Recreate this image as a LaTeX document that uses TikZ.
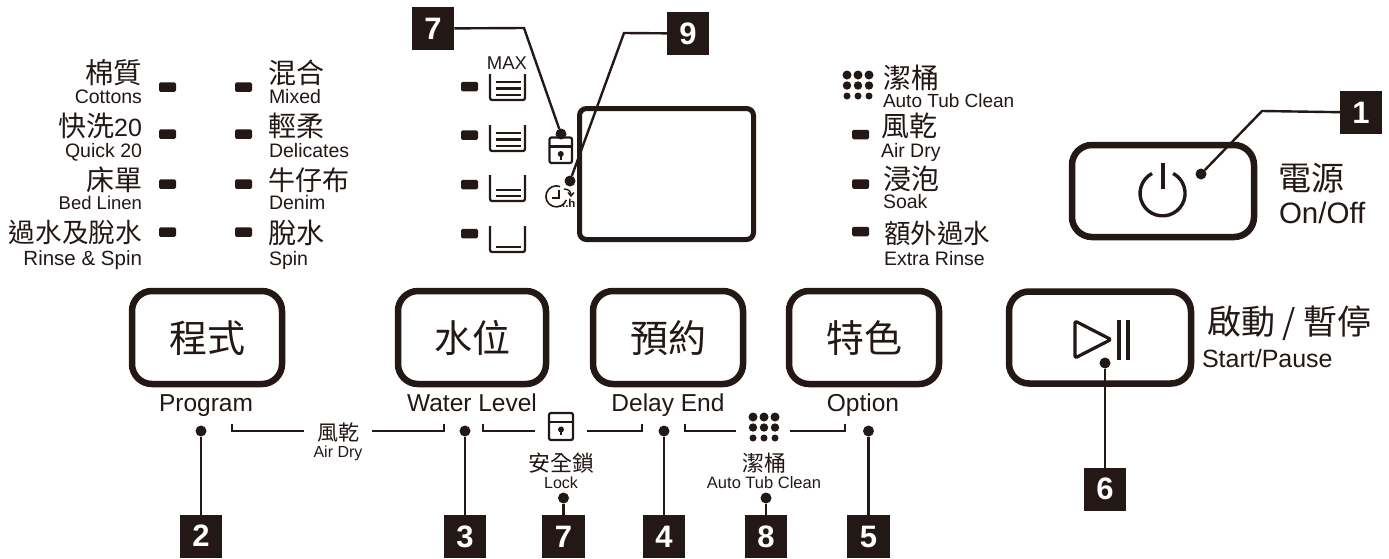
\documentclass[tikz,border=0pt]{standalone}
\usepackage{fontspec}
\setmainfont{Liberation Sans}
\newfontfamily\cjk{Noto Sans CJK TC}
\newfontfamily\lat{Liberation Sans}
\definecolor{ink}{HTML}{231815}
\newcommand{\fs}[1]{\fontsize{#1}{#1}\selectfont}
\tikzset{
  x=1pt,y=-1pt,
  every node/.style={inner sep=0pt,outer sep=0pt,text=ink},
  led/.style={fill=ink,rounded corners=1.5pt,minimum width=17pt,minimum height=9.5pt},
  panel/.style={draw=ink,line width=6.5pt,rounded corners=20pt,fill=white},
  tag/.style={fill=ink,minimum width=42.5pt,minimum height=43pt,text=white,font=\bfseries\fs{31}},
  dot/.style={circle,fill=ink,minimum size=11pt},
  lead/.style={draw=ink,line width=2.4pt},
  brk/.style={draw=ink,line width=2pt},
  zh/.style={font=\cjk\fs{28},anchor=base west},
  zhr/.style={font=\cjk\fs{28},anchor=base east},
  en/.style={font=\fs{19.5},anchor=base west},
  enr/.style={font=\fs{19.5},anchor=base east},
  btn/.style={font=\cjk\fs{38},anchor=base},
  capt/.style={font=\fs{24.5},anchor=base},
  tub/.style={draw=ink,line width=2.2pt,line join=round},
  lvl/.style={draw=ink,line width=2.2pt},
  nine/.style={circle,fill=ink},
}
\newcommand{\tubicon}[1]{\draw[tub,rounded corners=2pt] (490,#1) -- (490,#1+26) -- (525,#1+26) -- (525,#1);}
\newcommand{\lockicon}[4]{% x0 y0 x1 y1
  \draw[tub,rounded corners=2pt] (#1,#2) rectangle (#3,#4);
  \draw[tub] (#1,#2+9) -- (#3,#2+9);
  \fill[ink] ({(#1+#3)/2},#2+16.5) circle (3pt);
  \fill[ink] ({(#1+#3)/2-1.2},#2+16.5) rectangle ({(#1+#3)/2+1.2},#2+22);}
\begin{document}
\begin{tikzpicture}
\useasboundingbox[fill=white] (0,0) rectangle (1389,558);
% left column
\node[zhr,font=\cjk\fs{28.5}] (t1) at (142,83) {棉質};
\node[enr] (t1e) at (142,103) {Cottons};
\node[zhr] (t2) at (142,136) {快洗{\lat\fs{25}20}};
\node[enr] (t2e) at (142,157) {Quick 20};
\node[zhr] (t3) at (142,190) {床單};
\node[enr,font=\fs{18.5}] (t3e) at (142,209) {Bed Linen};
\node[zhr,font=\cjk\fs{26.6}] (t4) at (142,242) {過水及脫水};
\node[enr,font=\fs{20.5}] (t4e) at (142,265) {Rinse \& Spin};
\node[led] (l1) at (167.5,87) {};
\node[led] (l2) at (167.5,134) {};
\node[led] (l3) at (167.5,184) {};
\node[led] (l4) at (167.5,232) {};
\node[led] (m1) at (243.5,87) {};
\node[led] (m2) at (243.5,134) {};
\node[led] (m3) at (243.5,184) {};
\node[led] (m4) at (243.5,232) {};
\node[zh] (u1) at (268,83) {混合};
\node[en] (u1e) at (269,103) {Mixed};
\node[zh] (u2) at (268,136) {輕柔};
\node[en] (u2e) at (269,157) {Delicates};
\node[zh,font=\cjk\fs{27}] (u3) at (268,190) {牛仔布};
\node[en] (u3e) at (269,209) {Denim};
\node[zh] (u4) at (268,243) {脫水};
\node[en] (u4e) at (269,265) {Spin};
% water levels
\node[font=\fs{18.5},anchor=base] (mx) at (507,69) {MAX};
\node[led] (w1) at (469.5,86.5) {};
\node[led] (w2) at (469.5,135) {};
\node[led] (w3) at (469.5,184.5) {};
\node[led] (w4) at (469.5,233.5) {};
\tubicon{74}\tubicon{125}\tubicon{175}\tubicon{226}
\foreach \y in {82,88.5,95,133,139.5,146,190,196,247}{\draw[lvl] (495.5,\y) -- (520.5,\y);}
% display
\node[draw=ink,line width=5pt,rounded corners=7pt,minimum width=174pt,minimum height=131pt,anchor=north west,fill=none] (disp) at (579.5,108.5) {};
% lock and clock icons
\lockicon{549.5}{137.5}{572}{163}
\draw[ink,line width=1.6pt] (560,186.5) arc (70:340:10.5pt);
\draw[ink,line width=1.6pt] (559,190) -- (559,198) -- (552,198);
\draw[ink,line width=1.4pt] (564,189) .. controls (568,189) and (571,191) .. (571,195);
\draw[ink,line width=1.4pt] (568,192.5) -- (571,196) -- (574,192.5);
\node[font=\bfseries\fs{11.5},anchor=base east] (hh) at (575.5,207.5) {...h};
% leaders top
\node[tag] (b7t) at (433,28.5) {7};
\node[tag] (b9) at (688,33.5) {9};
\node[dot] (d7t) at (561,134) {};
\node[dot] (d9) at (570,181) {};
\coordinate (k7) at (524,28);
\coordinate (k9) at (624,33);
\draw[lead] (b7t) -- (k7) -- (d7t);
\draw[lead] (b9) -- (k9) -- (d9);
% right column
\foreach \nm/\x/\y/\r in {a/847/75/4.5,b/858/75/4.5,c/869/75/4.5,d/847/85.5/4.2,e/858/85.5/4.2,f/869/85.5/4.2,g/847/96/3.5,h/858/96/3.5,i/869/96/3.5}{
  \node[nine,minimum size=2*\r*1pt] (p\nm) at (\x,\y) {};}
\node[zh] (r1) at (883,88) {潔桶};
\node[en,font=\fs{19}] (r1e) at (883,107) {Auto Tub Clean};
\node[led] (s2) at (860.5,134.5) {};
\node[led] (s3) at (860.5,184) {};
\node[led] (s4) at (860.5,231.5) {};
\node[zh] (r2) at (881,136) {風乾};
\node[en] (r2e) at (881,157) {Air Dry};
\node[zh] (r3) at (883,189) {浸泡};
\node[en] (r3e) at (883,208) {Soak};
\node[zh,font=\cjk\fs{26.5}] (r4) at (884,243) {額外過水};
\node[en] (r4e) at (884,265) {Extra Rinse};
% power
\node[panel,minimum width=182pt,minimum height=92pt,anchor=north west] (pw) at (1072,145) {};
\draw[ink,line width=3.4pt] (1152,173.5) arc (118:422:22.5pt);
\draw[ink,line width=3.6pt] (1163,163) -- (1163,189);
\node[tag] (b1) at (1361,112.5) {1};
\node[dot] (d1) at (1201,174) {};
\coordinate (k1) at (1262,111);
\draw[lead] (b1) -- (k1) -- (d1);
\node[font=\cjk\fs{33},anchor=base west] (pz) at (1278,190) {電源};
\node[font=\fs{29.5},anchor=base west] (pe) at (1279,223) {On/Off};
% start
\node[panel,minimum width=182pt,minimum height=92pt,anchor=north west] (st) at (1009,291.5) {};
\draw[ink,line width=3.2pt,line join=round,rounded corners=2pt] (1075,321) -- (1111,339.5) -- (1075,358) -- cycle;
\draw[ink,line width=3.2pt] (1119,320) -- (1119,360);
\draw[ink,line width=3.2pt] (1128,320) -- (1128,360);
\node[tag] (b6) at (1105,489) {6};
\node[dot] (d6) at (1105,363) {};
\draw[lead] (b6) -- (d6);
\node[font=\cjk\fs{34},anchor=base west] (sz) at (1207,334) {啟動 / 暫停};
\node[font=\fs{25},anchor=base west] (se) at (1202,367) {Start/Pause};
% main buttons
\node[panel,minimum width=150pt,minimum height=93pt,anchor=north west] (bp) at (132,291) {};
\node[panel,minimum width=148pt,minimum height=93pt,anchor=north west] (bw) at (398,291) {};
\node[panel,minimum width=150pt,minimum height=93pt,anchor=north west] (bd) at (593,291) {};
\node[panel,minimum width=150pt,minimum height=93pt,anchor=north west] (bo) at (789,291) {};
\node[btn] (bpt) at (207,352) {程式};
\node[btn] (bwt) at (472,352) {水位};
\node[btn] (bdt) at (668,352) {預約};
\node[btn] (bot) at (864,352) {特色};
\node[capt] (cp) at (206,411) {Program};
\node[capt] (cw) at (472,411) {Water Level};
\node[capt] (cd) at (668,411) {Delay End};
\node[capt] (co) at (863,411) {Option};
% bottom tags
\node[tag] (b2) at (201,536) {2};
\node[tag] (b3) at (465,536.5) {3};
\node[tag] (b7) at (563.5,536.5) {7};
\node[tag] (b4) at (664,536.5) {4};
\node[tag] (b8) at (766,536.5) {8};
\node[tag] (b5) at (868.5,536.5) {5};
\node[dot] (d2) at (201,431) {};
\node[dot] (d3) at (465,431) {};
\node[dot] (d7) at (563.5,498) {};
\node[dot] (d4) at (664,431) {};
\node[dot] (d8) at (766,498) {};
\node[dot] (d5) at (868.5,431) {};
\foreach \a/\b in {b2/d2,b3/d3,b7/d7,b4/d4,b8/d8,b5/d5}{\draw[lead] (\a) -- (\b);}
% brackets
\draw[brk] (232,423.5) -- (232,431) -- (304,431);
\draw[brk] (372,431) -- (444,431) -- (444,423.5);
\draw[brk] (483,423.5) -- (483,431) -- (535,431);
\draw[brk] (587,431) -- (642,431) -- (642,423.5);
\draw[brk] (685,423.5) -- (685,431) -- (736,431);
\draw[brk] (790,431) -- (845,431) -- (845,423.5);
\node[font=\cjk\fs{21},anchor=base] (q1) at (338,440) {風乾};
\node[font=\fs{16},anchor=base] (q1e) at (338,457) {Air Dry};
\lockicon{549}{413}{573}{440}
\foreach \nm/\x/\y/\r in {a/753/417/4.5,b/764/417/4.5,c/775/417/4.5,d/753/427.5/4.2,e/764/427.5/4.2,f/775/427.5/4.2,g/753/438/3.5,h/764/438/3.5,i/775/438/3.5}{
  \node[nine,minimum size=2*\r*1pt] (v\nm) at (\x,\y) {};}
\node[font=\cjk\fs{22},anchor=base] (q2) at (561,471) {安全鎖};
\node[font=\fs{16},anchor=base] (q2e) at (561,488) {Lock};
\node[font=\cjk\fs{22},anchor=base] (q3) at (764,471) {潔桶};
\node[font=\fs{16.5},anchor=base] (q3e) at (764,488) {Auto Tub Clean};
\end{tikzpicture}
\end{document}
